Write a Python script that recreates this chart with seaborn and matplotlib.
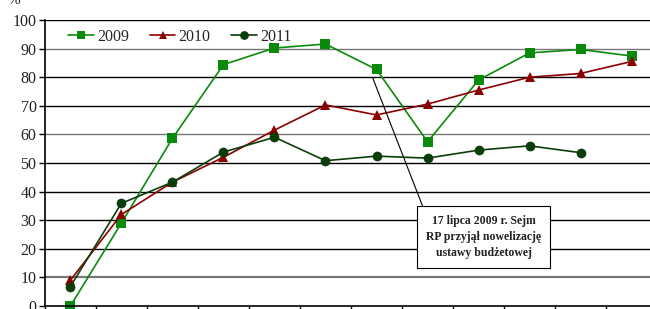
import numpy as np
import pandas as pd
import matplotlib
matplotlib.use('Agg')
import matplotlib.pyplot as plt
import seaborn as sns

# dane, % wykonania wg miesięcy
months = ['I', 'II', 'III', 'IV', 'V', 'VI', 'VII', 'VIII', 'IX', 'X', 'XI', 'XII']
y2009 = [0, 29, 58.6, 84.4, 90.2, 91.6, 82.7, 57.4, 79.0, 88.5, 89.7, 87.4]
y2010 = [9, 32, 43.3, 52.0, 61.5, 70.3, 66.8, 70.6, 75.5, 80.0, 81.3, 85.5]
y2011 = [6.8, 35.9, 43.3, 53.8, 59.0, 50.8, 52.4, 51.7, 54.5, 56.0, 53.6, np.nan]
years = ['2009', '2010', '2011']
colors = ['#0a8a0a', '#8b0000', '#0b3d0b']
yticks = list(range(0, 101, 10))
note = '17 lipca 2009 r. Sejm\nRP przyjął nowelizację\nustawy budżetowej'

rows = []
for year, vals in zip(years, [y2009, y2010, y2011]):
    for i, v in enumerate(vals):
        rows.append({'m': i, 'val': v, 'rok': year})
df = pd.DataFrame(rows).dropna()

sns.set_theme(style='white')
plt.rcParams['font.family'] = ['Liberation Serif', 'DejaVu Serif']

fig = plt.figure(figsize=(6.5, 3.09), dpi=100)
ax = fig.add_axes([0.069, 0.0097, 0.942, 0.9256])

sns.lineplot(data=df, x='m', y='val', hue='rok', style='rok',
             markers=['s', '^', 'o'], dashes=False, palette=colors,
             markersize=7, linewidth=1.2, markeredgewidth=0, ax=ax,
             clip_on=False)

ax.set_xlim(-0.5, 11.5)
ax.set_ylim(0, 100)
ax.set_yticks(yticks)
ax.set_yticklabels([str(t) for t in yticks], fontsize=11.5, color='#222222')
ax.set_xticks(np.arange(-0.5, 12, 1))
ax.set_xticklabels([])
ax.tick_params(axis='x', direction='out', length=5, width=1, color='black', bottom=True)
ax.tick_params(axis='y', direction='out', length=4, width=1, color='black', left=True, pad=2)
ax.set_xlabel('')
ax.set_ylabel('')

for t in yticks[1:]:
    c = '#777777' if t in (10, 60, 90) else 'black'
    lw = 1.6 if t == 10 else 1.0
    ax.axhline(t, color=c, lw=lw, zorder=0)

for s in ['top', 'right']:
    ax.spines[s].set_visible(False)
for s in ['left', 'bottom']:
    ax.spines[s].set_color('black')
    ax.spines[s].set_linewidth(1.2)

leg = ax.legend(loc='upper left', bbox_to_anchor=(0.015, 1.02), ncol=3, frameon=False,
                fontsize=11.5, handlelength=1.6, columnspacing=1.3, handletextpad=0.2,
                markerscale=0.9)

# adnotacja
ax.annotate(note, xy=(5.92, 80), xytext=(8.1, 24.0),
            ha='center', va='center', fontsize=8.5, fontweight='bold', color='#222222',
            linespacing=1.45,
            bbox=dict(boxstyle='square,pad=0.75', fc='white', ec='black', lw=0.8),
            arrowprops=dict(arrowstyle='-', color='black', lw=0.8, shrinkA=0, shrinkB=0,
                            relpos=(0.0, 1.0)))

fig.text(0.012, 1.0, '%', fontsize=11, ha='left', va='center', color='#222222')

fig.savefig('out.png', dpi=100)
